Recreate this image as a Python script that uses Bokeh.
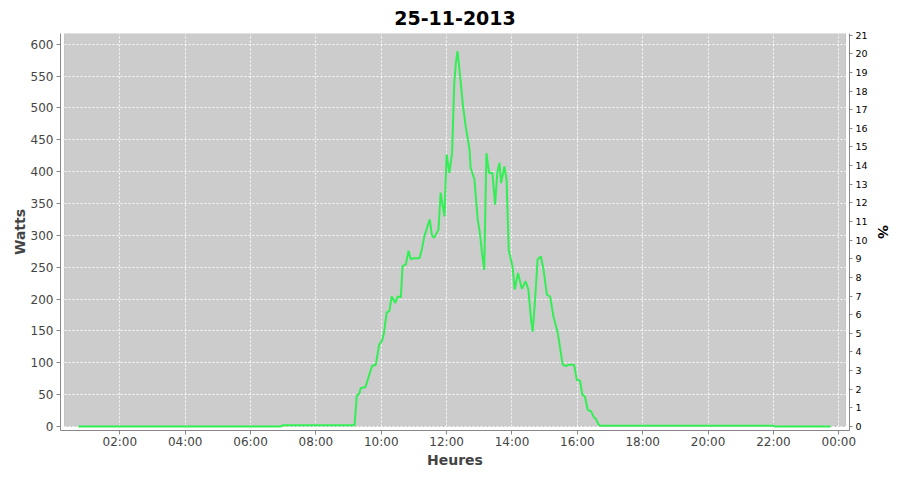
from bokeh.plotting import figure
from bokeh.models import Range1d, LinearAxis, FixedTicker, BoxAnnotation, Legend, LegendItem
from bokeh.embed import file_html
from bokeh.resources import INLINE

# ---------------- data ----------------
title_text = "25-11-2013"
series_name = "Toiture 2925 Wc( 1,769 kWh )"
peak_wc = 2925

times = ["00:44", "06:55", "07:00", "09:10", "09:11", "09:15", "09:20", "09:22", "09:31", "09:35",
         "09:43", "09:50", "09:56", "10:02", "10:05", "10:10", "10:15", "10:19", "10:26", "10:30",
         "10:36", "10:39", "10:45", "10:50", "10:54", "11:01", "11:10", "11:14", "11:19", "11:29",
         "11:33", "11:37", "11:45", "11:49", "11:56", "12:00", "12:05", "12:10", "12:14", "12:17",
         "12:20", "12:23", "12:26", "12:30", "12:35", "12:42", "12:44", "12:51", "12:57", "13:01",
         "13:05", "13:09", "13:13", "13:18", "13:24", "13:29", "13:33", "13:37", "13:40", "13:46",
         "13:50", "13:54", "14:01", "14:05", "14:11", "14:18", "14:25", "14:30", "14:35", "14:38",
         "14:42", "14:47", "14:53", "14:58", "15:04", "15:10", "15:16", "15:24", "15:33", "15:39",
         "15:45", "15:54", "15:59", "16:05", "16:09", "16:14", "16:19", "16:25", "16:30", "16:34",
         "16:39", "16:43", "22:00", "22:03", "23:45"]
watts = [0, 0, 2, 2, 2, 48, 52, 60, 62, 73,
         95, 97, 128, 136, 147, 179, 181, 204, 194, 204,
         203, 252, 254, 276, 263, 264, 264, 276, 298, 325,
         300, 296, 309, 367, 330, 427, 398, 429, 539, 571,
         589, 565, 539, 503, 471, 435, 406, 388, 325, 304,
         272, 246, 429, 398, 398, 348, 398, 414, 382, 408,
         388, 277, 251, 215, 241, 216, 228, 215, 168, 149,
         194, 262, 267, 246, 207, 204, 173, 147, 97, 95,
         97, 97, 73, 72, 50, 47, 26, 24, 15, 12,
         3, 1, 1, 0, 0]

y_ticks = list(range(0, 601, 50))
pct_ticks = list(range(0, 22))
x_tick_hours = [2, 4, 6, 8, 10, 12, 14, 16, 18, 20, 22, 24]
x_tick_labels = ["02:00", "04:00", "06:00", "08:00", "10:00", "12:00",
                 "14:00", "16:00", "18:00", "20:00", "22:00", "00:00"]


def to_hours(t):
    h, m = t.split(":")
    return int(h) + int(m) / 60.0


x = [to_hours(t) for t in times]

# ---------------- ranges / layout ----------------
Y_TOP = 616.8
Y_BOT = -6.3
X_LEFT = 0.185
X_RIGHT = 24.327
BOX_LEFT = 0.308
BOX_RIGHT = 24.205

FONT = "DejaVu Sans"
GREEN = "#33ee55"

p = figure(frame_width=789, frame_height=397,
           x_range=Range1d(X_LEFT, X_RIGHT), y_range=Range1d(Y_BOT, Y_TOP),
           output_backend="svg", toolbar_location=None,
           background_fill_color="white", border_fill_color="white")
p.outline_line_color = None
p.margin = (0, 0, 0, 8)

# title
p.title.text = title_text
p.title.align = "center"
p.title.text_font = FONT
p.title.text_font_size = "19px"
p.title.text_font_style = "bold"
p.title.text_color = "black"
p.title.offset = -15
p.title.standoff = 17

# gray plot area (offset from axes)
box = BoxAnnotation(left=BOX_LEFT, right=BOX_RIGHT, bottom=0, top=Y_TOP,
                    fill_color="#cccccc", fill_alpha=1.0,
                    line_color="#777777", line_width=1, level="image")
p.add_layout(box)

# grids
p.xgrid.ticker = FixedTicker(ticks=x_tick_hours)
p.ygrid.ticker = FixedTicker(ticks=y_ticks)
for g in (p.xgrid, p.ygrid):
    g.grid_line_color = "white"
    g.grid_line_dash = "2 2"
    g.grid_line_width = 1
    g.grid_line_alpha = 0.9

# x axis
xa = p.xaxis[0]
xa.ticker = FixedTicker(ticks=x_tick_hours)
xa.major_label_overrides = {h: lab for h, lab in zip(x_tick_hours, x_tick_labels)}
xa.axis_label = "Heures"

# left axis
ya = p.yaxis[0]
ya.ticker = FixedTicker(ticks=y_ticks)
ya.axis_label = "Watts"

# right axis
p.extra_y_ranges = {"pct": Range1d(Y_BOT * 100.0 / peak_wc, Y_TOP * 100.0 / peak_wc)}
ra = LinearAxis(y_range_name="pct", ticker=FixedTicker(ticks=pct_ticks), axis_label="%")
p.add_layout(ra, "right")

for ax in (xa, ya, ra):
    ax.axis_line_color = "#888888"
    ax.major_tick_line_color = "#888888"
    ax.minor_tick_line_color = None
    ax.major_tick_in = 0
    ax.major_tick_out = 4
    ax.major_label_text_font = FONT
    ax.major_label_text_font_size = "12px"
    ax.major_label_text_color = "#444444"
    ax.axis_label_text_font = FONT
    ax.axis_label_text_font_size = "14px"
    ax.axis_label_text_font_style = "bold"
    ax.axis_label_text_color = "#444444"
    ax.major_label_standoff = 3

ra.major_label_text_font_size = "9.5px"
ra.major_label_text_color = "black"
ra.major_tick_out = 3
ra.axis_label_text_color = "black"
ra.axis_label_standoff = 4
ya.axis_label_standoff = 0
xa.major_label_standoff = 0
xa.axis_label_standoff = 0

# data line
r = p.line(x, watts, line_color=GREEN, line_width=2)

legend = Legend(items=[LegendItem(label=series_name, renderers=[r])],
                location="top_center", orientation="horizontal",
                border_line_color="black", border_line_width=1, border_line_alpha=1,
                background_fill_color="white", background_fill_alpha=1,
                label_text_font=FONT, label_text_font_size="12px", label_text_color="#333333",
                glyph_width=15, glyph_height=14, label_height=14,
                padding=3, margin=2, label_standoff=3, spacing=0)
p.add_layout(legend, "below")

open("out.html", "w").write(file_html(p, INLINE))
